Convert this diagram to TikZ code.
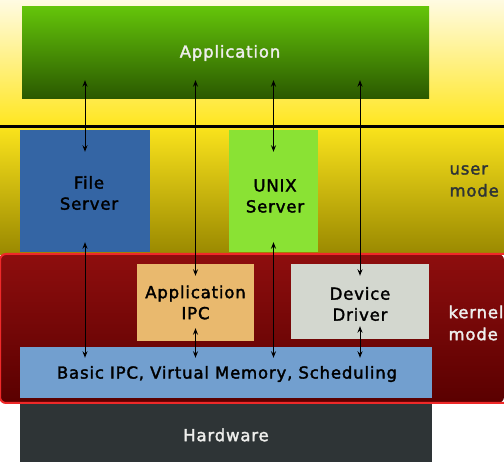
\documentclass[tikz,border=0pt]{standalone}
\usepackage{fontspec}
\setmainfont{DejaVu Sans}
\newfontfamily\medfont[FakeBold=2,LetterSpace=5]{DejaVu Sans}
\usetikzlibrary{arrows.meta,calc}
\definecolor{appTop}{HTML}{64C40A}
\definecolor{appBot}{HTML}{2A5800}
\definecolor{bgTop}{HTML}{FFFBE2}
\definecolor{bgBot}{HTML}{FFE61E}
\definecolor{bandTop}{HTML}{FAE31C}
\definecolor{bandBot}{HTML}{998800}
\definecolor{kTop}{HTML}{8E0E0E}
\definecolor{kBot}{HTML}{5A0000}
\definecolor{kBorder}{HTML}{EF2929}
\definecolor{fsBlue}{HTML}{3465A4}
\definecolor{unixGreen}{HTML}{8AE234}
\definecolor{ipcOrange}{HTML}{E9B96E}
\definecolor{ddGray}{HTML}{D3D7CF}
\definecolor{basicBlue}{HTML}{729FCF}
\definecolor{hwDark}{HTML}{2E3436}
\definecolor{lightTxt}{HTML}{EEEEEC}
\definecolor{userTxt}{HTML}{2E3436}
\begin{document}
\begin{tikzpicture}[x=1pt,y=1pt,
  box/.style={rectangle, inner sep=0pt, align=center, font=\medfont\fontsize{16.5}{21}\selectfont},
  biarrow/.style={{Stealth[length=6.5pt,width=5pt]}-{Stealth[length=6.5pt,width=5pt]}, line width=1pt, black},
  modetxt/.style={align=left, anchor=west, font=\medfont\fontsize{16.5}{22}\selectfont}]
\useasboundingbox (0,0) rectangle (504,462);
% backgrounds
\shade[top color=bgTop, bottom color=bgBot] (0,335) rectangle (504,462);
\shade[top color=bandTop, bottom color=bandBot] (0,207) rectangle (504,335);
\fill[white] (0,0) rectangle (504,59);
\draw[line width=3pt, black] (0,335) -- (504,335);
% kernel region
\shade[top color=kTop, bottom color=kBot, rounded corners=6pt] (0,59) -- (0,208) -- (504,208) -- (504,59) -- cycle;
\draw[kBorder, line width=2pt, rounded corners=6pt] (504,208) -- (0,208) -- (0,59) -- (504,59);
% boxes
\node[box, minimum width=407pt, minimum height=92pt, top color=appTop, bottom color=appBot] (app) at (225.5,409) {};
\node[box, text=lightTxt] (apptxt) at (230,409) {Application};
\node[box, minimum width=130pt, minimum height=122pt, fill=fsBlue] (fs) at (85,271) {};
\node[box] (fstxt) at (89,269) {File\\Server};
\node[box, minimum width=89pt, minimum height=122pt, fill=unixGreen] (unix) at (273.5,271) {};
\node[box] (unixtxt) at (275,266) {UNIX\\Server};
\node[box, minimum width=117pt, minimum height=77pt, fill=ipcOrange] (ipc) at (195.5,159.5) {Application\\IPC};
\node[box, minimum width=138pt, minimum height=75pt, fill=ddGray] (dd) at (360,160.5) {};
\node[box] (ddtxt) at (360,158) {Device\\Driver};
\node[box, minimum width=412pt, minimum height=51pt, fill=basicBlue] (basic) at (226,89.5) {};
\node[box] (basictxt) at (227,88) {Basic IPC, Virtual Memory, Scheduling};
\node[box, minimum width=412pt, minimum height=58pt, fill=hwDark] (hw) at (226,29) {};
\node[box, text=lightTxt] (hwtxt) at (226,27) {Hardware};
% mode labels
\node[modetxt, text=userTxt] (user) at (446,281) {user\\mode};
\node[modetxt, text=lightTxt] (kern) at (445,139) {kernel\\mode};
% arrow end points
\coordinate (a1) at ($(fs.north |- app.south)+(0,19)$);
\coordinate (b1) at ($(fs.north)+(0,-22)$);
\coordinate (c1) at ($(fs.south)+(0,10)$);
\coordinate (d1) at ($(fs.south |- basic.north)+(0,-11)$);
\coordinate (a2) at ($(ipc.north |- app.south)+(0,19)$);
\coordinate (b2) at ($(ipc.north)+(0,-12)$);
\coordinate (c2) at ($(ipc.south)+(0,13)$);
\coordinate (d2) at ($(ipc.south |- basic.north)+(0,-11)$);
\coordinate (a3) at ($(unix.north |- app.south)+(0,19)$);
\coordinate (b3) at ($(unix.north)+(0,-22)$);
\coordinate (c3) at ($(unix.south)+(0,10)$);
\coordinate (d3) at ($(unix.south |- basic.north)+(0,-11)$);
\coordinate (a4) at ($(dd.north |- app.south)+(0,19)$);
\coordinate (b4) at ($(dd.north)+(0,-12)$);
\coordinate (c4) at ($(dd.south)+(0,13)$);
\coordinate (d4) at ($(dd.south |- basic.north)+(0,-11)$);
\draw[biarrow] (a1) -- (b1);
\draw[biarrow] (c1) -- (d1);
\draw[biarrow] (a2) -- (b2);
\draw[biarrow] (c2) -- (d2);
\draw[biarrow] (a3) -- (b3);
\draw[biarrow] (c3) -- (d3);
\draw[biarrow] (a4) -- (b4);
\draw[biarrow] (c4) -- (d4);
\end{tikzpicture}
\end{document}
